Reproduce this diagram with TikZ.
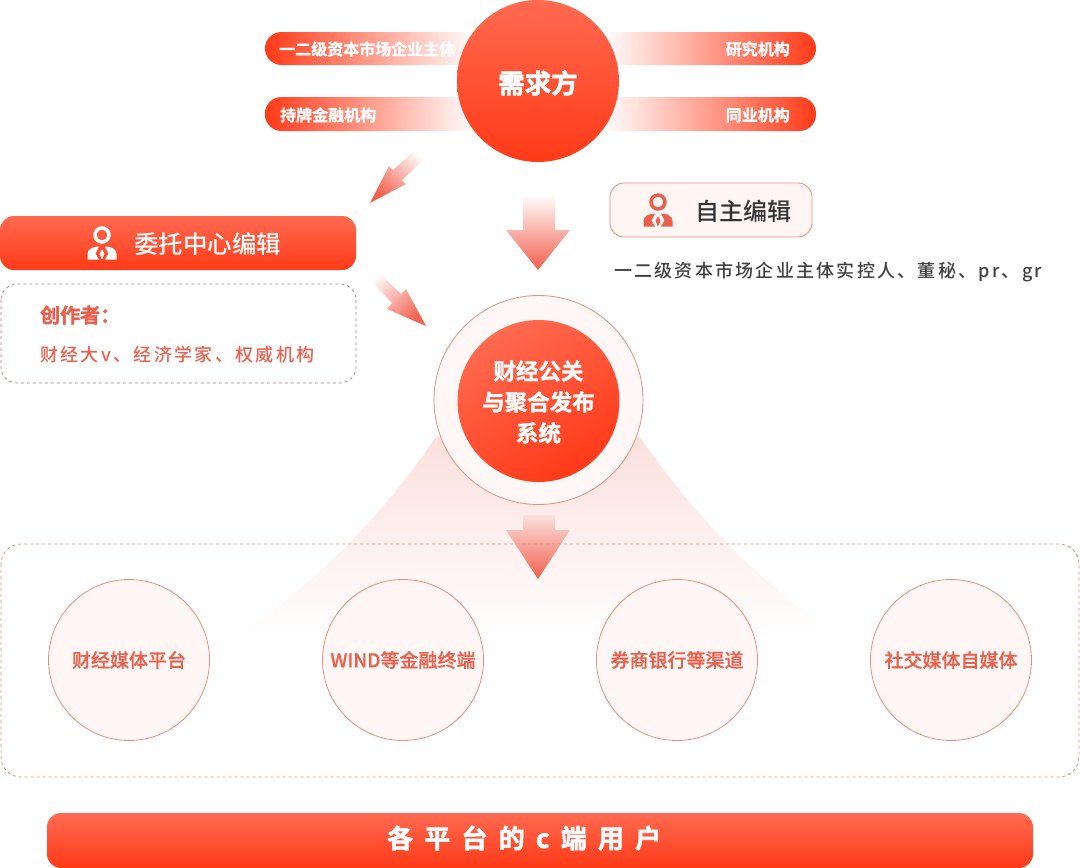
\documentclass[tikz,border=0pt]{standalone}
\usepackage{fontspec}
\setmainfont{Noto Sans CJK SC Medium}
\newfontfamily\boldcjk[FakeBold=1.2]{Noto Sans CJK SC Bold}
\newfontfamily\blackcjk[FakeBold=2]{Noto Sans CJK SC Bold}
\newfontfamily\outletfont[FakeBold=0.5]{Noto Sans CJK SC Medium}
\newfontfamily\widecjk[LetterSpace=12.5]{Noto Sans CJK SC Medium}
\newfontfamily\creatorfont[LetterSpace=13]{Noto Sans CJK SC Medium}
\newfontfamily\widebold[LetterSpace=43,FakeBold=2]{Noto Sans CJK SC Bold}
\usepackage{tikz}
\usetikzlibrary{calc}

\definecolor{redtop}{HTML}{FF6A50}
\definecolor{redbot}{HTML}{FF3A18}
\definecolor{redtext}{HTML}{E9604C}
\definecolor{redline}{HTML}{E58E80}
\definecolor{arrowred}{HTML}{F2604E}
\definecolor{fanpink}{HTML}{FBE0DD}
\definecolor{outletfill}{HTML}{FFF5F4}

\tikzset{
  redball/.style={circle,minimum size=162pt,inner sep=0,top color=redtop,bottom color=redbot},
  redbar/.style={top color=redtop,bottom color=redbot},
  plaintext/.style={inner sep=0},
  pilltext/.style={plaintext,text=white,font=\fontsize{16}{16}\boldcjk},
  balltext/.style={plaintext,text=white,align=center},
  leftpill/.style={left color=redbot,middle color=arrowred!80,right color=white},
  rightpill/.style={left color=white,middle color=arrowred!80,right color=redbot},
  fadearrow/.style={top color=white,bottom color=arrowred},
  dashbox/.style={draw=redline,dashed,line width=0.8pt},
  outlet/.style={circle,draw=redline,line width=0.8pt,minimum size=161pt,inner sep=0,fill=outletfill,fill opacity=0.8,text opacity=1,text=redtext,font=\fontsize{19}{20}\outletfont},
  pics/personicon/.style={code={
      \draw [#1,line width=3.5pt] (0,0) circle [radius=7];
      \fill [#1] (-14.5,24.5) -- (-14.5,19) .. controls (-14.5,14) and (-9,11.5) .. (-3,11.5) -- (-6.5,18.5) -- (-3,24.5) -- cycle;
      \fill [#1] (14.5,24.5) -- (14.5,19) .. controls (14.5,14) and (9,11.5) .. (3,11.5) -- (6.5,18.5) -- (3,24.5) -- cycle;
      \fill [#1] (0,14) -- (2.4,19) -- (0,24.5) -- (-2.4,19) -- cycle;
  }}
}

\begin{document}
\begin{tikzpicture}[x=1pt,y=-1pt]
      \useasboundingbox (0,0) rectangle (1080,868);

      % top group
      \path [leftpill,rounded corners=16.5pt] (475,32) -- (265,32) -- (265,65) [sharp corners] -- (475,65) -- cycle;
      \path [leftpill,rounded corners=16.5pt] (475,97) -- (265,97) -- (265,131) [sharp corners] -- (475,131) -- cycle;
      \path [rightpill,rounded corners=16.5pt] (602,32) -- (816,32) -- (816,65) [sharp corners] -- (602,65) -- cycle;
      \path [rightpill,rounded corners=16.5pt] (602,97) -- (816,97) -- (816,131) [sharp corners] -- (602,131) -- cycle;

      \node [pilltext,anchor=west] (listed) at (279,49) {一二级资本市场企业主体};
      \node [pilltext,anchor=west] (licensed) at (280,115) {持牌金融机构};
      \node [pilltext,anchor=east] (research) at (790,49) {研究机构};
      \node [pilltext,anchor=east] (peers) at (790,115) {同业机构};

      \node [redball] (demand) at (538,81) {};
      \node [balltext,font=\fontsize{26.5}{28}\blackcjk] (demandtext) at (538,83) {需求方};

      % arrows
      \path [fadearrow,shading angle=-45] (420,146) -- (429,155) -- (402,180) -- (406,184) -- (370,203) -- (389,166) -- (393,170) -- cycle;
      \path [fadearrow] (523,194) -- (555,194) -- (555,230) -- (570,230) -- (538,270) -- (506,230) -- (523,230) -- cycle;
      \path [fadearrow,shading angle=45] (374,268) -- (366,276) -- (392,303) -- (387,309) -- (426,326) -- (406,289) -- (401,294) -- cycle;

      % left column
      \path [redbar,rounded corners=14pt] (0,216) rectangle (356,270);
      \pic at (102,235) {personicon=white};
      \node [plaintext,text=white,font=\fontsize{24.5}{26}\selectfont,anchor=west] (entrust) at (134,244) {委托中心编辑};
      \draw [draw=gray!60!redline,dashed,line width=0.7pt,rounded corners=16pt] (1,284) rectangle (356,383);
      \node [plaintext,text=redtext,font=\fontsize{20}{22}\blackcjk,anchor=west] (creator) at (40,315) {创作者：};
      \node [plaintext,text=redtext,font=\fontsize{18}{20}\creatorfont,anchor=west] (creatorlist) at (40,355) {财经大v、经济学家、权威机构};

      % right column
      \draw [draw=redline,fill=redtop!6,line width=0.8pt,rounded corners=14pt] (610,183) rectangle (812,237);
      \pic at (658,202) {personicon=redtext};
      \node [plaintext,text=black!80,font=\fontsize{24}{26}\selectfont,anchor=west] (self) at (695,211) {自主编辑};
      \node [plaintext,text=black!75,font=\fontsize{18}{20}\widecjk,anchor=west] (selflist) at (614,272) {一二级资本市场企业主体实控人、董秘、pr、gr};

      % fan under the system
      \path [top color=fanpink,bottom color=white] (436,437) .. controls (380,520) and (300,600) .. (226,640) -- (850,640) .. controls (776,600) and (696,520) .. (640,437) -- cycle;

      \node [circle,draw=redline,line width=0.8pt,minimum size=209pt,inner sep=0,fill=redtop!5] (sysring) at (538.5,400) {};
      \node [redball,shading angle=30] (system) at (538.5,401) {};
      \node [balltext,font=\fontsize{22.5}{31}\boldcjk] (systemtext) at (538.5,402) {财经公关\\与聚合发布\\系统};

      \path [top color=fanpink,bottom color=arrowred] (523,515) -- (555,515) -- (555,530) -- (570,530) -- (538,579) -- (506,530) -- (523,530) -- cycle;
      \draw [dashbox,rounded corners=20pt] (1,544) rectangle (1079,777);

      \node [outlet] (media) at (129,660) {\raisebox{-1pt}{财经媒体平台}};
      \node [outlet] (wind) at (403,660) {\raisebox{-1pt}{WIND等金融终端}};
      \node [outlet] (broker) at (677,660) {\raisebox{-1pt}{券商银行等渠道}};
      \node [outlet] (social) at (951,660) {\raisebox{-1pt}{社交媒体自媒体}};

      % bottom bar
      \path [redbar,rounded corners=14pt] (47,813) rectangle (1033,868);
      \node [plaintext,text=white,font=\fontsize{26}{28}\widebold,anchor=west] (users) at (387,838) {各平台的c端用户};

\end{tikzpicture}
\end{document}
